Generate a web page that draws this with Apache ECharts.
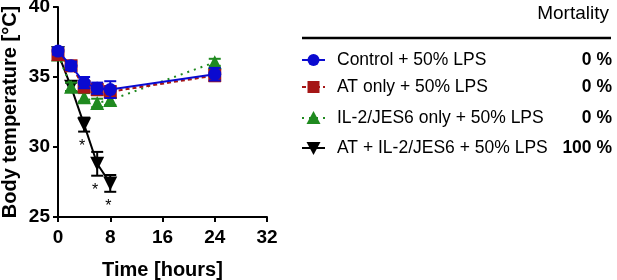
<!DOCTYPE html>
<html><head><meta charset="utf-8">
<script src="https://cdn.jsdelivr.net/npm/echarts@6/dist/echarts.min.js"></script>
<style>html,body{margin:0;padding:0;background:#fff}#c{width:617px;height:280px}</style>
</head><body><div id="c"></div>
<script>
var FONT = '"Liberation Sans", Arial, sans-serif';
// Data
var timeControl = [0, 2, 4, 6, 8, 24];
var timeCombo = [0, 2, 4, 6, 8];
var controlMean = [36.85, 35.8, 34.6, 34.2, 34.1, 35.2];
var controlSem  = [0.25, 0.3, 0.4, 0.4, 0.6, 0.45];
var atOnlyMean  = [36.6, 35.8, 34.3, 34.1, 33.95, 35.1];
var atOnlySem   = [0.3, 0.35, 0.4, 0.4, 0.4, 0.4];
var il2Mean     = [36.6, 34.3, 33.55, 33.15, 33.35, 36.05];
var il2Sem      = [0.2, 0.3, 0.3, 0.3, 0.35, 0.25];
var comboMean   = [36.7, 34.3, 31.6, 28.8, 27.4];
var comboSem    = [0.2, 0.3, 0.5, 0.85, 0.6];
var comboSig    = ['', '', '*', '*', '*'];
var xTicks = [0, 8, 16, 24, 32];
var yTicks = [25, 30, 35, 40];
var seriesNames = ['Control + 50% LPS', 'AT only + 50% LPS', 'IL-2/JES6 only + 50% LPS', 'AT + IL-2/JES6 + 50% LPS'];
var mortality = ['0 %', '0 %', '0 %', '100 %'];

var BLUE = '#0a0ad0', RED = '#a51616', GREEN = '#1f8a1f', BLACK = '#000';

function pts(t, m) { return t.map(function (x, i) { return [x, m[i]]; }); }
function errData(t, m, s, sig) { return t.map(function (x, i) { return [x, m[i], s[i], sig ? sig[i] : '']; }); }

function errSeries(data, color, z) {
  return {
    type: 'custom', z: z, silent: true,
    data: data,
    encode: { x: 0, y: 1 },
    renderItem: function (params, api) {
      var x = api.value(0), m = api.value(1), s = api.value(2), sig = api.value(3);
      var top = api.coord([x, m + s]), bot = api.coord([x, m - s]);
      var w = 6;
      var children = [
        { type: 'line', shape: { x1: top[0], y1: top[1], x2: bot[0], y2: bot[1] }, style: { stroke: color, lineWidth: 2 } },
        { type: 'line', shape: { x1: top[0] - w, y1: top[1], x2: top[0] + w, y2: top[1] }, style: { stroke: color, lineWidth: 2 } },
        { type: 'line', shape: { x1: bot[0] - w, y1: bot[1], x2: bot[0] + w, y2: bot[1] }, style: { stroke: color, lineWidth: 2 } }
      ];
      if (sig && sig !== '') {
        children.push({ type: 'text', style: { text: sig, x: bot[0] - 2, y: bot[1] + 15, align: 'center', verticalAlign: 'middle', font: '16px ' + FONT, fill: '#000' } });
      }
      return { type: 'group', children: children };
    }
  };
}

function lineSeries(name, data, color, symbol, size, lineType, z, rotate) {
  return {
    name: name, type: 'line', z: z, data: data,
    symbol: symbol, symbolSize: size, symbolRotate: rotate || 0,
    showAllSymbol: true,
    itemStyle: { color: color },
    lineStyle: { color: color, width: 2, type: lineType },
    animation: false
  };
}

var chart = echarts.init(document.getElementById('c'), null, { renderer: 'canvas' });

// Legend graphics
var legendY = [60, 87, 118, 148];
var legendColors = [BLUE, RED, GREEN, BLACK];
var legendLineTypes = [null, [4, 3], [2, 5], null];
var g = [];
g.push({ type: 'text', right: 8, top: 4, style: { text: 'Mortality', font: '19px ' + FONT, fill: '#000' } });
g.push({ type: 'line', shape: { x1: 302, y1: 38, x2: 611, y2: 38 }, style: { stroke: '#000', lineWidth: 2.5 } });
legendY.forEach(function (y, i) {
  var c = legendColors[i];
  var ls = { stroke: c, lineWidth: 2 };
  if (legendLineTypes[i]) ls.lineDash = legendLineTypes[i];
  g.push({ type: 'line', shape: { x1: 302, y1: y, x2: 325, y2: y }, style: ls });
  var cx = 313.5;
  if (i === 0) g.push({ type: 'circle', shape: { cx: cx, cy: y, r: 6 }, style: { fill: c } });
  if (i === 1) g.push({ type: 'rect', shape: { x: cx - 6, y: y - 6, width: 12, height: 12 }, style: { fill: c } });
  if (i === 2) g.push({ type: 'polygon', shape: { points: [[cx, y - 7], [cx - 7, y + 6], [cx + 7, y + 6]] }, style: { fill: c } });
  if (i === 3) g.push({ type: 'polygon', shape: { points: [[cx, y + 7], [cx - 7, y - 6], [cx + 7, y - 6]] }, style: { fill: c } });
  g.push({ type: 'text', x: 337, y: y, style: { text: seriesNames[i], font: '17.5px ' + FONT, fill: '#000', verticalAlign: 'middle' } });
  g.push({ type: 'text', x: 612, y: y, style: { text: mortality[i], font: 'bold 17.5px ' + FONT, fill: '#000', verticalAlign: 'middle', align: 'right' } });
});

chart.setOption({
  animation: false,
  backgroundColor: '#fff',
  grid: { left: 58, top: 7, right: 350, bottom: 63, containLabel: false, outerBoundsMode: 'none' },
  xAxis: {
    type: 'value', min: xTicks[0], max: xTicks[xTicks.length - 1], interval: 8,
    name: 'Time [hours]', nameLocation: 'middle', nameGap: 43,
    nameTextStyle: { fontFamily: FONT, fontWeight: 'bold', fontSize: 20, color: '#000' },
    axisLine: { show: true, lineStyle: { color: '#000', width: 2 } },
    axisTick: { show: true, length: 5, lineStyle: { color: '#000', width: 2 } },
    axisLabel: { fontFamily: FONT, fontWeight: 'bold', fontSize: 19, color: '#000', margin: 11 },
    splitLine: { show: false }
  },
  yAxis: {
    type: 'value', min: yTicks[0], max: yTicks[yTicks.length - 1], interval: 5,
    name: 'Body temperature [°C]', nameLocation: 'middle', nameGap: 38,
    nameTextStyle: { fontFamily: FONT, fontWeight: 'bold', fontSize: 20, color: '#000' },
    axisLine: { show: true, lineStyle: { color: '#000', width: 2 } },
    axisTick: { show: true, length: 5, lineStyle: { color: '#000', width: 2 } },
    axisLabel: { fontFamily: FONT, fontWeight: 'bold', fontSize: 19, color: '#000', margin: 8 },
    splitLine: { show: false }
  },
  series: [
    lineSeries(seriesNames[3], pts(timeCombo, comboMean), BLACK, 'triangle', 14, 'solid', 1, 180),
    errSeries(errData(timeCombo, comboMean, comboSem, comboSig), BLACK, 1),
    lineSeries(seriesNames[2], pts(timeControl, il2Mean), GREEN, 'triangle', 14, [2, 5], 2),
    errSeries(errData(timeControl, il2Mean, il2Sem), GREEN, 2),
    lineSeries(seriesNames[1], pts(timeControl, atOnlyMean), RED, 'rect', 13, [4, 3], 3),
    errSeries(errData(timeControl, atOnlyMean, atOnlySem), RED, 3),
    lineSeries(seriesNames[0], pts(timeControl, controlMean), BLUE, 'circle', 13, 'solid', 4),
    errSeries(errData(timeControl, controlMean, controlSem), BLUE, 4)
  ],
  graphic: g
});
</script>
</body></html>
